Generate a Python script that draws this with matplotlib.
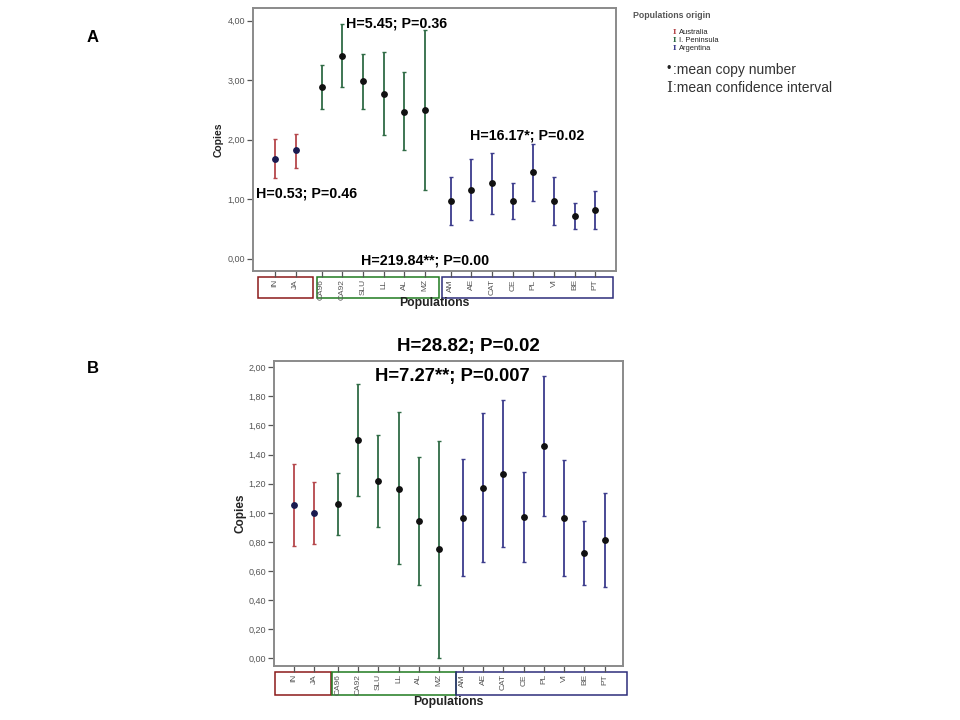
import matplotlib
matplotlib.use("Agg")
import matplotlib.pyplot as plt
from matplotlib.patches import Rectangle
from matplotlib.ticker import FuncFormatter, FixedLocator
import matplotlib.transforms as mtransforms

plt.rcParams['font.family'] = ['Liberation Sans', 'DejaVu Sans']

# ---------------- data ----------------
populations = ["IN", "JA", "CA96", "CA92", "SLU", "LL", "AL", "MZ",
               "AM", "AE", "CAT", "CE", "PL", "VI", "BE", "PT"]
origin = [0, 0, 1, 1, 1, 1, 1, 1, 2, 2, 2, 2, 2, 2, 2, 2]
origin_names = ["Australia", "I. Peninsula", "Argentina"]

# Panel A
a_mean = [1.68, 1.82, 2.89, 3.40, 2.98, 2.77, 2.47, 2.50,
          0.96, 1.16, 1.27, 0.97, 1.45, 0.96, 0.72, 0.81]
a_low = [1.36, 1.52, 2.52, 2.88, 2.51, 2.07, 1.82, 1.15,
         0.56, 0.65, 0.75, 0.66, 0.97, 0.56, 0.50, 0.49]
a_high = [2.01, 2.10, 3.26, 3.94, 3.44, 3.47, 3.13, 3.84,
          1.37, 1.67, 1.77, 1.27, 1.93, 1.37, 0.93, 1.13]

# Panel B
b_mean = [1.057, 1.00, 1.06, 1.50, 1.217, 1.167, 0.947, 0.749,
          0.966, 1.174, 1.269, 0.973, 1.459, 0.963, 0.721, 0.815]
b_low = [0.774, 0.788, 0.845, 1.116, 0.904, 0.646, 0.505, 0.002,
         0.564, 0.662, 0.763, 0.662, 0.975, 0.564, 0.507, 0.493]
b_high = [1.336, 1.21, 1.276, 1.888, 1.532, 1.69, 1.386, 1.491,
          1.368, 1.683, 1.774, 1.279, 1.943, 1.365, 0.941, 1.137]

a_yticks = [0.0, 1.0, 2.0, 3.0, 4.0]
b_yticks = [0.0, 0.2, 0.4, 0.6, 0.8, 1.0, 1.2, 1.4, 1.6, 1.8, 2.0]

# ---------------- style ----------------
bar_colors = ["#b5474b", "#2f6b45", "#3c3c8c"]
dot_colors = ["#1a1a50", "#111111", "#111111"]
box_colors = ["#8b1a1a", "#1f7a1f", "#2e2e7a"]
frame_color = "#8a8a8a"
W, H = 960, 720

fig = plt.figure(figsize=(9.6, 7.2), dpi=100)
fig.patch.set_facecolor("white")


def px_axes(l, t, r, b):
    return fig.add_axes([l / W, 1 - b / H, (r - l) / W, (b - t) / H])


def comma_fmt(v, pos):
    return ("%.2f" % v).replace(".", ",")


def draw_panel(ax, mean, low, high, gap, yticks, ylim, xlim, boxes, box_y):
    pos = [i + origin[i] * gap for i in range(len(populations))]
    for i in range(len(populations)):
        g = origin[i]
        ax.errorbar([pos[i]], [mean[i]],
                    yerr=[[mean[i] - low[i]], [high[i] - mean[i]]],
                    fmt="none", ecolor=bar_colors[g], elinewidth=1.3,
                    capsize=1.6, capthick=1.0, zorder=2)
        ax.plot([pos[i]], [mean[i]], "o", color=dot_colors[g], ms=3.9,
                zorder=3)
    ax.set_xlim(*xlim)
    ax.set_ylim(*ylim)
    ax.yaxis.set_major_locator(FixedLocator(yticks))
    ax.yaxis.set_major_formatter(FuncFormatter(comma_fmt))
    ax.set_xticks(pos)
    ax.set_xticklabels(populations, rotation=90, fontsize=6, color="#555555",
                       va="top")
    ax.tick_params(axis="y", labelsize=6.5, colors="#555555", length=4,
                   width=0.9, direction="out", pad=2)
    ax.tick_params(axis="x", length=4, width=0.9, colors="#555555",
                   direction="out", pad=2)
    for sp in ax.spines.values():
        sp.set_color(frame_color)
        sp.set_linewidth(1.4)
    trans = mtransforms.blended_transform_factory(ax.transData, ax.transAxes)
    for k, (x0, x1) in enumerate(boxes):
        r = Rectangle((x0, box_y[1]), x1 - x0, box_y[0] - box_y[1],
                      transform=trans, fill=False, edgecolor=box_colors[k],
                      linewidth=1.1, clip_on=False)
        ax.add_patch(r)
    return pos


# ---------------- Panel A ----------------
axA = px_axes(253.3, 8.3, 616, 271)
draw_panel(axA, a_mean, a_low, a_high, 0.25, a_yticks, (-0.21, 4.21),
           (-1.05, 16.5),
           [(-0.81, 1.85), (2.02, 7.95), (8.10, 16.37)], (-0.021, -0.103))
txt_kw = dict(fontsize=10.3, fontweight="bold", color="black", ha="left",
              va="center")
axA.text(3.42, 3.956, "H=5.45; P=0.36", **txt_kw)
axA.text(9.44, 2.07, "H=16.17*; P=0.02", **txt_kw)
axA.text(-0.92, 1.10, "H=0.53; P=0.46", **txt_kw)
axA.text(4.16, -0.027, "H=219.84**; P=0.00", **txt_kw)
fig.text(218.3 / W, 1 - 140 / H, "Copies", rotation=90, fontsize=7.5,
         fontweight="bold", ha="center", va="center", color="#222222")
fig.text(434.2 / W, 1 - 303.5 / H, "Populations", fontsize=8.8,
         fontweight="bold", ha="center", va="center", color="#222222")

# ---------------- Panel B ----------------
axB = px_axes(274.3, 361, 623.3, 665.7)
draw_panel(axB, b_mean, b_low, b_high, 0.17, b_yticks, (-0.05, 2.043),
           (-0.97, 16.26),
           [(-0.92, 1.81), (1.88, 7.99), (8.0, 16.46)], (-0.0217, -0.096))
axB.text(4.01, 1.936, "H=7.27**; P=0.007", fontsize=13.3, fontweight="bold",
         ha="left", va="center")
fig.text(396.7 / W, 1 - 346 / H, "H=28.82; P=0.02", fontsize=13.5,
         fontweight="bold", ha="left", va="center")
fig.text(240.7 / W, 1 - 513.3 / H, "Copies", rotation=90, fontsize=8.5,
         fontweight="bold", ha="center", va="center", color="#222222")
fig.text(448.8 / W, 1 - 702 / H, "Populations", fontsize=8.8,
         fontweight="bold", ha="center", va="center", color="#222222")

# ---------------- panel letters ----------------
fig.text(93 / W, 1 - 37 / H, "A", fontsize=12, fontweight="bold",
         ha="center", va="center")
fig.text(93 / W, 1 - 369 / H, "B", fontsize=12, fontweight="bold",
         ha="center", va="center")

# ---------------- legend ----------------
fig.text(633 / W, 1 - 15.5 / H, "Populations origin", fontsize=6.3,
         fontweight="bold", color="#555555", ha="left", va="center")
for k, name in enumerate(origin_names):
    y = 1 - (32 + 8 * k) / H
    fig.text(674.5 / W, y, "I", fontsize=5.3, fontweight="bold",
             color=bar_colors[k], ha="center", va="center",
             family="DejaVu Serif")
    fig.text(679 / W, y, name, fontsize=5.4, color="#222222", ha="left",
             va="center")
fig.text(669 / W, 1 - 69.3 / H, "\u2022", fontsize=9, color="#222222",
         ha="center", va="center")
fig.text(672.7 / W, 1 - 70 / H, ":mean copy number", fontsize=10,
         color="#333333", ha="left", va="center")
fig.text(669 / W, 1 - 88 / H, "I", fontsize=11, color="#333333",
         ha="center", va="center", family="DejaVu Serif")
fig.text(672.7 / W, 1 - 88 / H, ":mean confidence interval", fontsize=10,
         color="#333333", ha="left", va="center")

fig.savefig("out.png", dpi=100, facecolor="white")
